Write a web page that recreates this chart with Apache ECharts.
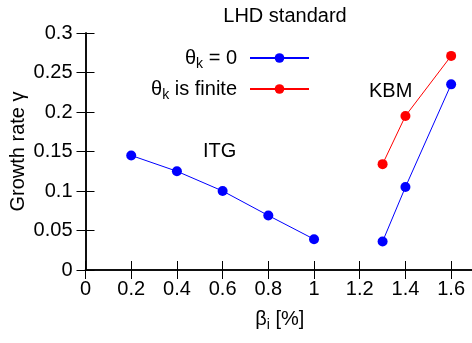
<!DOCTYPE html>
<html>
<head>
<meta charset="utf-8">
<script src="https://cdn.jsdelivr.net/npm/echarts@6/dist/echarts.min.js"></script>
<style>
html,body{margin:0;padding:0;background:#fff;}
#c{width:472px;height:343px;}
</style>
</head>
<body>
<div id="c"></div>
<script>
const titleText = 'LHD standard';
const xTicks = [0, 0.2, 0.4, 0.6, 0.8, 1, 1.2, 1.4, 1.6];
const yTicks = [0, 0.05, 0.1, 0.15, 0.2, 0.25, 0.3];
const betaITG = [0.2, 0.4, 0.6, 0.8, 1.0];
const gammaITG = [0.145, 0.125, 0.1, 0.069, 0.039];
const betaKBM = [1.3, 1.4, 1.6];
const gammaKBMzero = [0.036, 0.105, 0.235];
const gammaKBMfinite = [0.134, 0.195, 0.271];
const seriesNames = ['θk = 0', 'θk is finite'];
const legendRich = ['{a|θ}{s|k}{a| = 0}', '{a|θ}{s|k}{a| is finite}'];

const FONT = "'Liberation Sans', Arial, sans-serif";
const pairs = (xs, ys) => xs.map((x, i) => [x, ys[i]]);

const chart = echarts.init(document.getElementById('c'), null, {renderer: 'canvas'});

const axisCommon = {
  type: 'value',
  axisLine: {show: true, lineStyle: {color: '#000', width: 1.5}},
  axisTick: {show: true, inside: true, length: 9, lineStyle: {color: '#000', width: 1}},
  splitLine: {show: false}
};

const option = {
  animation: false,
  backgroundColor: '#fff',
  textStyle: {fontFamily: FONT},
  title: {
    text: titleText, left: 280, top: 1, textAlign: 'center',
    textStyle: {fontFamily: FONT, fontSize: 20, fontWeight: 'normal', color: '#000'}
  },
  grid: {left: 85.5, top: 33, width: 388.5, height: 237, containLabel: false, outerBoundsMode: 'none'},
  legend: {
    orient: 'vertical', left: 137, top: 45, padding: 0,
    itemWidth: 59, itemHeight: 12, itemGap: 5, align: 'right',
    data: seriesNames,
    formatter: name => legendRich[seriesNames.indexOf(name)],
    textStyle: {
      width: 100, padding: [0, 8, 0, 0], lineHeight: 24,
      rich: {
        a: {fontSize: 20, fontFamily: FONT, color: '#000', align: 'right', lineHeight: 24},
        s: {fontSize: 14, fontFamily: FONT, color: '#000', align: 'right', lineHeight: 24, padding: [12, 0, 0, 0]}
      }
    }
  },
  xAxis: [
    Object.assign({}, axisCommon, {
      position: 'bottom', min: 0, max: 1.7, interval: 0.2,
      axisLabel: {
        show: true, showMaxLabel: false, margin: 9, fontSize: 20, fontFamily: FONT, color: '#000',
        formatter: v => (xTicks.some(t => Math.abs(t - v) < 1e-9) ? String(+v.toFixed(2)) : '')
      },
      name: 'β{s|i} [%]', nameLocation: 'middle', nameGap: 36, nameMoveOverlap: false,
      nameTextStyle: {
        fontSize: 20, fontFamily: FONT, color: '#000',
        rich: {s: {fontSize: 14, fontFamily: FONT, color: '#000', padding: [12, 0, 0, 0]}}
      }
    }),
    Object.assign({}, axisCommon, {
      position: 'top', min: 0, max: 1.7, interval: 0.2,
      axisLabel: {show: false}
    })
  ],
  yAxis: [
    Object.assign({}, axisCommon, {
      position: 'left', min: 0, max: 0.3, interval: 0.05,
      axisLabel: {
        show: true, margin: 13, fontSize: 20, fontFamily: FONT, color: '#000',
        formatter: v => String(+v.toFixed(2))
      },
      name: 'Growth rate γ', nameLocation: 'middle', nameGap: 57, nameRotate: 90, nameMoveOverlap: false,
      nameTextStyle: {fontSize: 20, fontFamily: FONT, color: '#000'}
    }),
    Object.assign({}, axisCommon, {
      position: 'right', min: 0, max: 0.3, interval: 0.05,
      axisLabel: {show: false}
    })
  ],
  series: [
    {
      name: seriesNames[0], type: 'line', xAxisIndex: 0, yAxisIndex: 0,
      data: pairs(betaITG, gammaITG),
      symbol: 'circle', symbolSize: 10,
      lineStyle: {color: '#0000ff', width: 1}, itemStyle: {color: '#0000ff'}
    },
    {
      name: seriesNames[0], type: 'line', xAxisIndex: 0, yAxisIndex: 0,
      data: pairs(betaKBM, gammaKBMzero),
      symbol: 'circle', symbolSize: 10,
      lineStyle: {color: '#0000ff', width: 1}, itemStyle: {color: '#0000ff'}
    },
    {
      name: seriesNames[1], type: 'line', xAxisIndex: 0, yAxisIndex: 0,
      data: pairs(betaKBM, gammaKBMfinite),
      symbol: 'circle', symbolSize: 10,
      lineStyle: {color: '#ff0000', width: 1}, itemStyle: {color: '#ff0000'}
    }
  ],
  graphic: [
    {type: 'text', left: 203, top: 141, style: {text: 'ITG', fontSize: 20, fontFamily: FONT, fill: '#000'}},
    {type: 'text', left: 369, top: 81, style: {text: 'KBM', fontSize: 20, fontFamily: FONT, fill: '#000'}}
  ]
};
chart.setOption(option);
</script>
</body>
</html>
